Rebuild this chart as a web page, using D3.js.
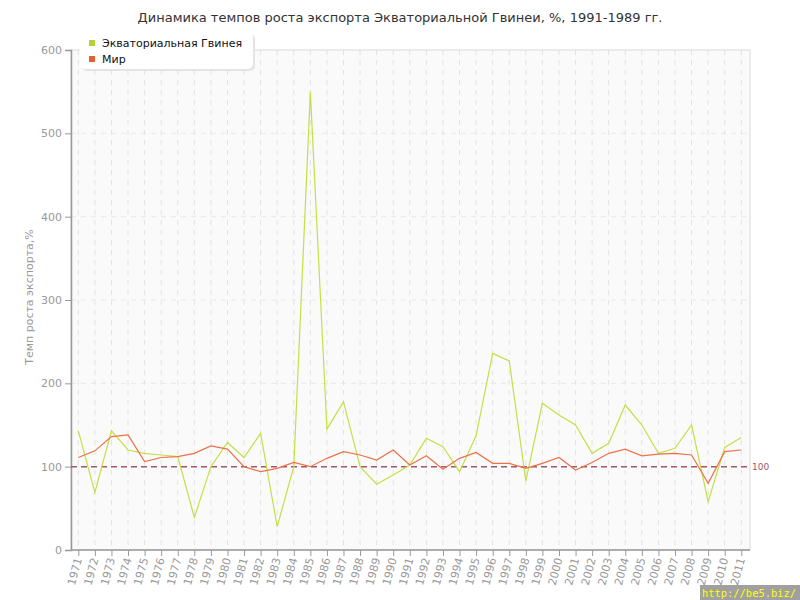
<!DOCTYPE html>
<html>
<head>
<meta charset="utf-8">
<script src="https://cdn.jsdelivr.net/npm/d3@7"></script>
<style>
body{margin:0;background:#fff;}
svg{display:block;font-family:"DejaVu Sans",Verdana,sans-serif;}
</style>
</head>
<body>
<svg id="chart" width="800" height="600"></svg>
<script>
const years = d3.range(1971, 2012).map(String);
const guinea = [143,69,143,120,116,114,112,39,100,129,111,140,28,100,550,145,178,100,79,90,102,134,124,94,137,236,227,83,176,162,150,116,128,174,150,116,122,150,58,123,135];
const world = [111,119,136,138,106,111,112,116,125,121,100,94,98,105,100,110,118,114,108,120,102,113,97,110,117,104,104,98,104,111,96,105,116,121,113,115,116,114,80,118,120];
const seriesNames = ["Экваториальная Гвинея", "Мир"];
const seriesColors = ["#c3e044", "#ee7048"];
const legendColors = ["#b3d334", "#e5612f"];
const yTicks = [0,100,200,300,400,500,600];
const refValue = 100;
const title = "Динамика темпов роста экспорта Экваториальной Гвинеи, %, 1991-1989 гг.";
const yTitle = "Темп роста экспорта,%";

const svg = d3.select("#chart");
const L = 71, R = 750, T = 50, B = 550;

const x = d3.scalePoint().domain(years).range([78.3, 741.3]);
const y = d3.scaleLinear().domain([0, 600]).range([B, T]);

// plot background
svg.append("rect").attr("x", L).attr("y", T).attr("width", R - L).attr("height", B - T)
  .attr("fill", "#fafafa").attr("stroke", "#e6e6e6").attr("stroke-width", 1.5);

// vertical grid
svg.append("g").selectAll("line").data(years).join("line")
  .attr("x1", d => x(d)).attr("x2", d => x(d)).attr("y1", T).attr("y2", B)
  .attr("stroke", "#e2e2e2").attr("stroke-dasharray", "5,5");

// horizontal grid
svg.append("g").selectAll("line").data(yTicks.filter(v => v > 0 && v < 600)).join("line")
  .attr("x1", L).attr("x2", R).attr("y1", d => y(d)).attr("y2", d => y(d))
  .attr("stroke", "#e8e8e8").attr("stroke-dasharray", "5,5");

// y axis
const yAxis = svg.append("g").attr("transform", `translate(${L},0)`)
  .call(d3.axisLeft(y).tickValues(yTicks).tickSize(6).tickPadding(3));
yAxis.select(".domain").attr("stroke", "#999").attr("stroke-width", 1.5);
yAxis.selectAll(".tick line").attr("stroke", "#999");
yAxis.selectAll(".tick text").attr("fill", "#999").attr("font-size", 11)
  .attr("font-family", "DejaVu Sans, Verdana, sans-serif");

// x axis
const xAxis = svg.append("g").attr("transform", `translate(0,${B})`)
  .call(d3.axisBottom(x).tickSize(6).tickPadding(3));
xAxis.select(".domain").attr("stroke", "#999").attr("stroke-width", 1.5).attr("d", `M${L},0H${R}`);
xAxis.selectAll(".tick line").attr("stroke", "#999");
xAxis.selectAll(".tick text").attr("fill", "#999").attr("font-size", 11)
  .attr("font-family", "DejaVu Sans, Verdana, sans-serif")
  .attr("text-anchor", "end").attr("dy", "0.35em")
  .attr("transform", "translate(0,6) rotate(-75)").attr("x", -2).attr("y", 0);

// reference line
svg.append("line").attr("x1", L).attr("x2", R).attr("y1", y(refValue)).attr("y2", y(refValue))
  .attr("stroke", "#a4566a").attr("stroke-width", 1.5).attr("stroke-dasharray", "6,4");
svg.append("text").attr("x", R + 2).attr("y", y(refValue)).attr("dy", "0.35em")
  .attr("font-size", 9).attr("fill", "#a4566a").text(refValue);

// lines
const line = d3.line().x((d, i) => x(years[i])).y(d => y(d));
[guinea, world].forEach((s, k) => {
  svg.append("path").datum(s).attr("d", line).attr("fill", "none")
    .attr("stroke", seriesColors[k]).attr("stroke-width", 1.2);
});

// title
svg.append("text").attr("x", 400).attr("y", 22).attr("text-anchor", "middle")
  .attr("font-size", 13).attr("fill", "#333").text(title);

// y title
svg.append("text").attr("transform", "translate(33,297) rotate(-90)").attr("text-anchor", "middle")
  .attr("font-size", 11).attr("fill", "#999").text(yTitle);

// legend
const lg = svg.append("g");
lg.append("rect").attr("x", 81).attr("y", 33).attr("width", 173).attr("height", 37).attr("rx", 5)
  .attr("fill", "#e4e4e4").attr("transform", "translate(1,1)");
lg.append("rect").attr("x", 80).attr("y", 32).attr("width", 173).attr("height", 37).attr("rx", 5)
  .attr("fill", "#fff");
seriesNames.forEach((n, i) => {
  lg.append("rect").attr("x", 89).attr("y", 40 + i * 16).attr("width", 6).attr("height", 6).attr("fill", legendColors[i]);
  lg.append("text").attr("x", 102).attr("y", 43 + i * 16).attr("dy", "0.35em")
    .attr("font-size", 11).attr("fill", "#111").text(n);
});

// watermark
svg.append("rect").attr("x", 700).attr("y", 585).attr("width", 100).attr("height", 15).attr("fill", "#a0a0a0");
svg.append("text").attr("x", 702).attr("y", 597).attr("font-size", 11)
  .attr("textLength", 94).attr("lengthAdjust", "spacingAndGlyphs")
  .attr("font-family", "DejaVu Sans Mono, monospace").attr("fill", "#ffff00").text("http://be5.biz/");
</script>
</body>
</html>
